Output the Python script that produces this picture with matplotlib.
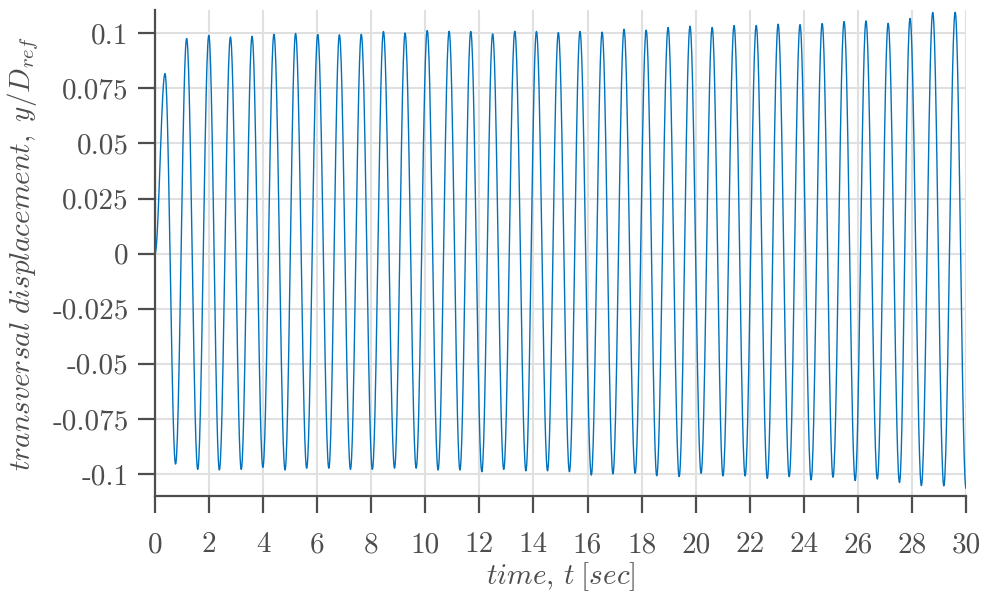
import numpy as np
import matplotlib
matplotlib.use("Agg")
import matplotlib.pyplot as plt

plt.rcParams['mathtext.fontset'] = 'cm'
plt.rcParams['font.family'] = 'serif'
plt.rcParams['font.serif'] = ['cmr10', 'DejaVu Serif']

# crests of the transversal response (time [s], y/D_ref)
peak_t = [0.37, 1.17, 1.99, 2.79, 3.59, 4.40, 5.20, 6.02, 6.82, 7.63, 8.45, 9.25,
          10.07, 10.88, 11.68, 12.49, 13.31, 14.11, 14.92, 15.72, 16.54, 17.35, 18.17,
          18.98, 19.79, 20.61, 21.42, 22.24, 23.05, 23.86, 24.68, 25.49, 26.30, 27.12,
          27.93, 28.77, 29.60]
peak_y = [0.0817, 0.0976, 0.0990, 0.0983, 0.0986, 0.0995, 0.0999, 0.0994, 0.0993, 0.0995,
          0.1008, 0.1001, 0.1012, 0.1009, 0.1008, 0.0997, 0.1009, 0.1008, 0.1003, 0.1008,
          0.1005, 0.1018, 0.1014, 0.1026, 0.1032, 0.1026, 0.1035, 0.1035, 0.1041, 0.1039,
          0.1044, 0.1053, 0.1056, 0.1045, 0.1067, 0.1094, 0.1095]

# troughs (last one is the end of the record at t = 30)
trough_t = [0.76, 1.58, 2.38, 3.19, 3.99, 4.81, 5.61, 6.43, 7.23, 8.04, 8.86, 9.66,
            10.47, 11.28, 12.09, 12.90, 13.72, 14.52, 15.33, 16.14, 16.94, 17.76, 18.56,
            19.39, 20.20, 21.01, 21.83, 22.65, 23.46, 24.27, 25.08, 25.90, 26.72, 27.54,
            28.35, 29.18, 30.0]
trough_y = [-0.0955, -0.0979, -0.0982, -0.0979, -0.0970, -0.0982, -0.0974, -0.0974,
            -0.0979, -0.0979, -0.0974, -0.0974, -0.0982, -0.0982, -0.0990, -0.0979,
            -0.0986, -0.0986, -0.0990, -0.1005, -0.1000, -0.0997, -0.1008, -0.1012,
            -0.0997, -0.1009, -0.1009, -0.1020, -0.1012, -0.1027, -0.1015, -0.1030,
            -0.1023, -0.1039, -0.1053, -0.1054, -0.1065]

x_ticks = [0, 2, 4, 6, 8, 10, 12, 14, 16, 18, 20, 22, 24, 26, 28, 30]
y_ticks = [-0.1, -0.075, -0.05, -0.025, 0, 0.025, 0.05, 0.075, 0.1]
y_tick_labels = ['-0.1', '-0.075', '-0.05', '-0.025', '0', '0.025', '0.05', '0.075', '0.1']

# extrema in time order, starting from rest
ext_t = [0.0]
ext_y = [0.0]
for i in range(len(peak_t)):
    ext_t += [peak_t[i], trough_t[i]]
    ext_y += [peak_y[i], trough_y[i]]

# smooth half-wave between each pair of extrema
t = []
y = []
for k in range(len(ext_t) - 1):
    s = np.linspace(0, 1, 30, endpoint=False)
    w = 0.5 - 0.5 * np.cos(np.pi * s)
    t.extend(ext_t[k] + (ext_t[k + 1] - ext_t[k]) * s)
    y.extend(ext_y[k] + (ext_y[k + 1] - ext_y[k]) * w)
t.append(ext_t[-1])
y.append(ext_y[-1])

axcol = '#4d4d4d'
fig = plt.figure(figsize=(9.83, 5.94), dpi=100)
ax = fig.add_axes([0.1577, 0.165, 0.8250, 0.818])
ax.plot(t, y, color='#0072BD', linewidth=1.0, zorder=3)

ax.set_xlim(0, 30)
ax.set_ylim(-0.11, 0.1105)
ax.set_xticks(x_ticks)
ax.set_xticklabels([str(v) for v in x_ticks])
ax.set_yticks(y_ticks)
ax.set_yticklabels(y_tick_labels)

ax.grid(True, color='#e0e0e0', linewidth=1.5, zorder=0)
ax.set_axisbelow(True)
for side in ['top', 'right']:
    ax.spines[side].set_visible(False)
for side in ['left', 'bottom']:
    ax.spines[side].set_color(axcol)
    ax.spines[side].set_linewidth(1.6)
ax.tick_params(direction='out', length=12, width=1.6, color=axcol,
               labelcolor=axcol, labelsize=21)
ax.tick_params(axis='x', pad=14)
ax.tick_params(axis='y', pad=7)

ax.set_xlabel(r'$time,\,t\;[sec]$', fontsize=21, color=axcol, labelpad=1)
ax.set_ylabel(r'$transversal\ displacement,\ y/D_{ref}$', fontsize=21,
              color=axcol, labelpad=8)

fig.savefig('out.png', dpi=100)
